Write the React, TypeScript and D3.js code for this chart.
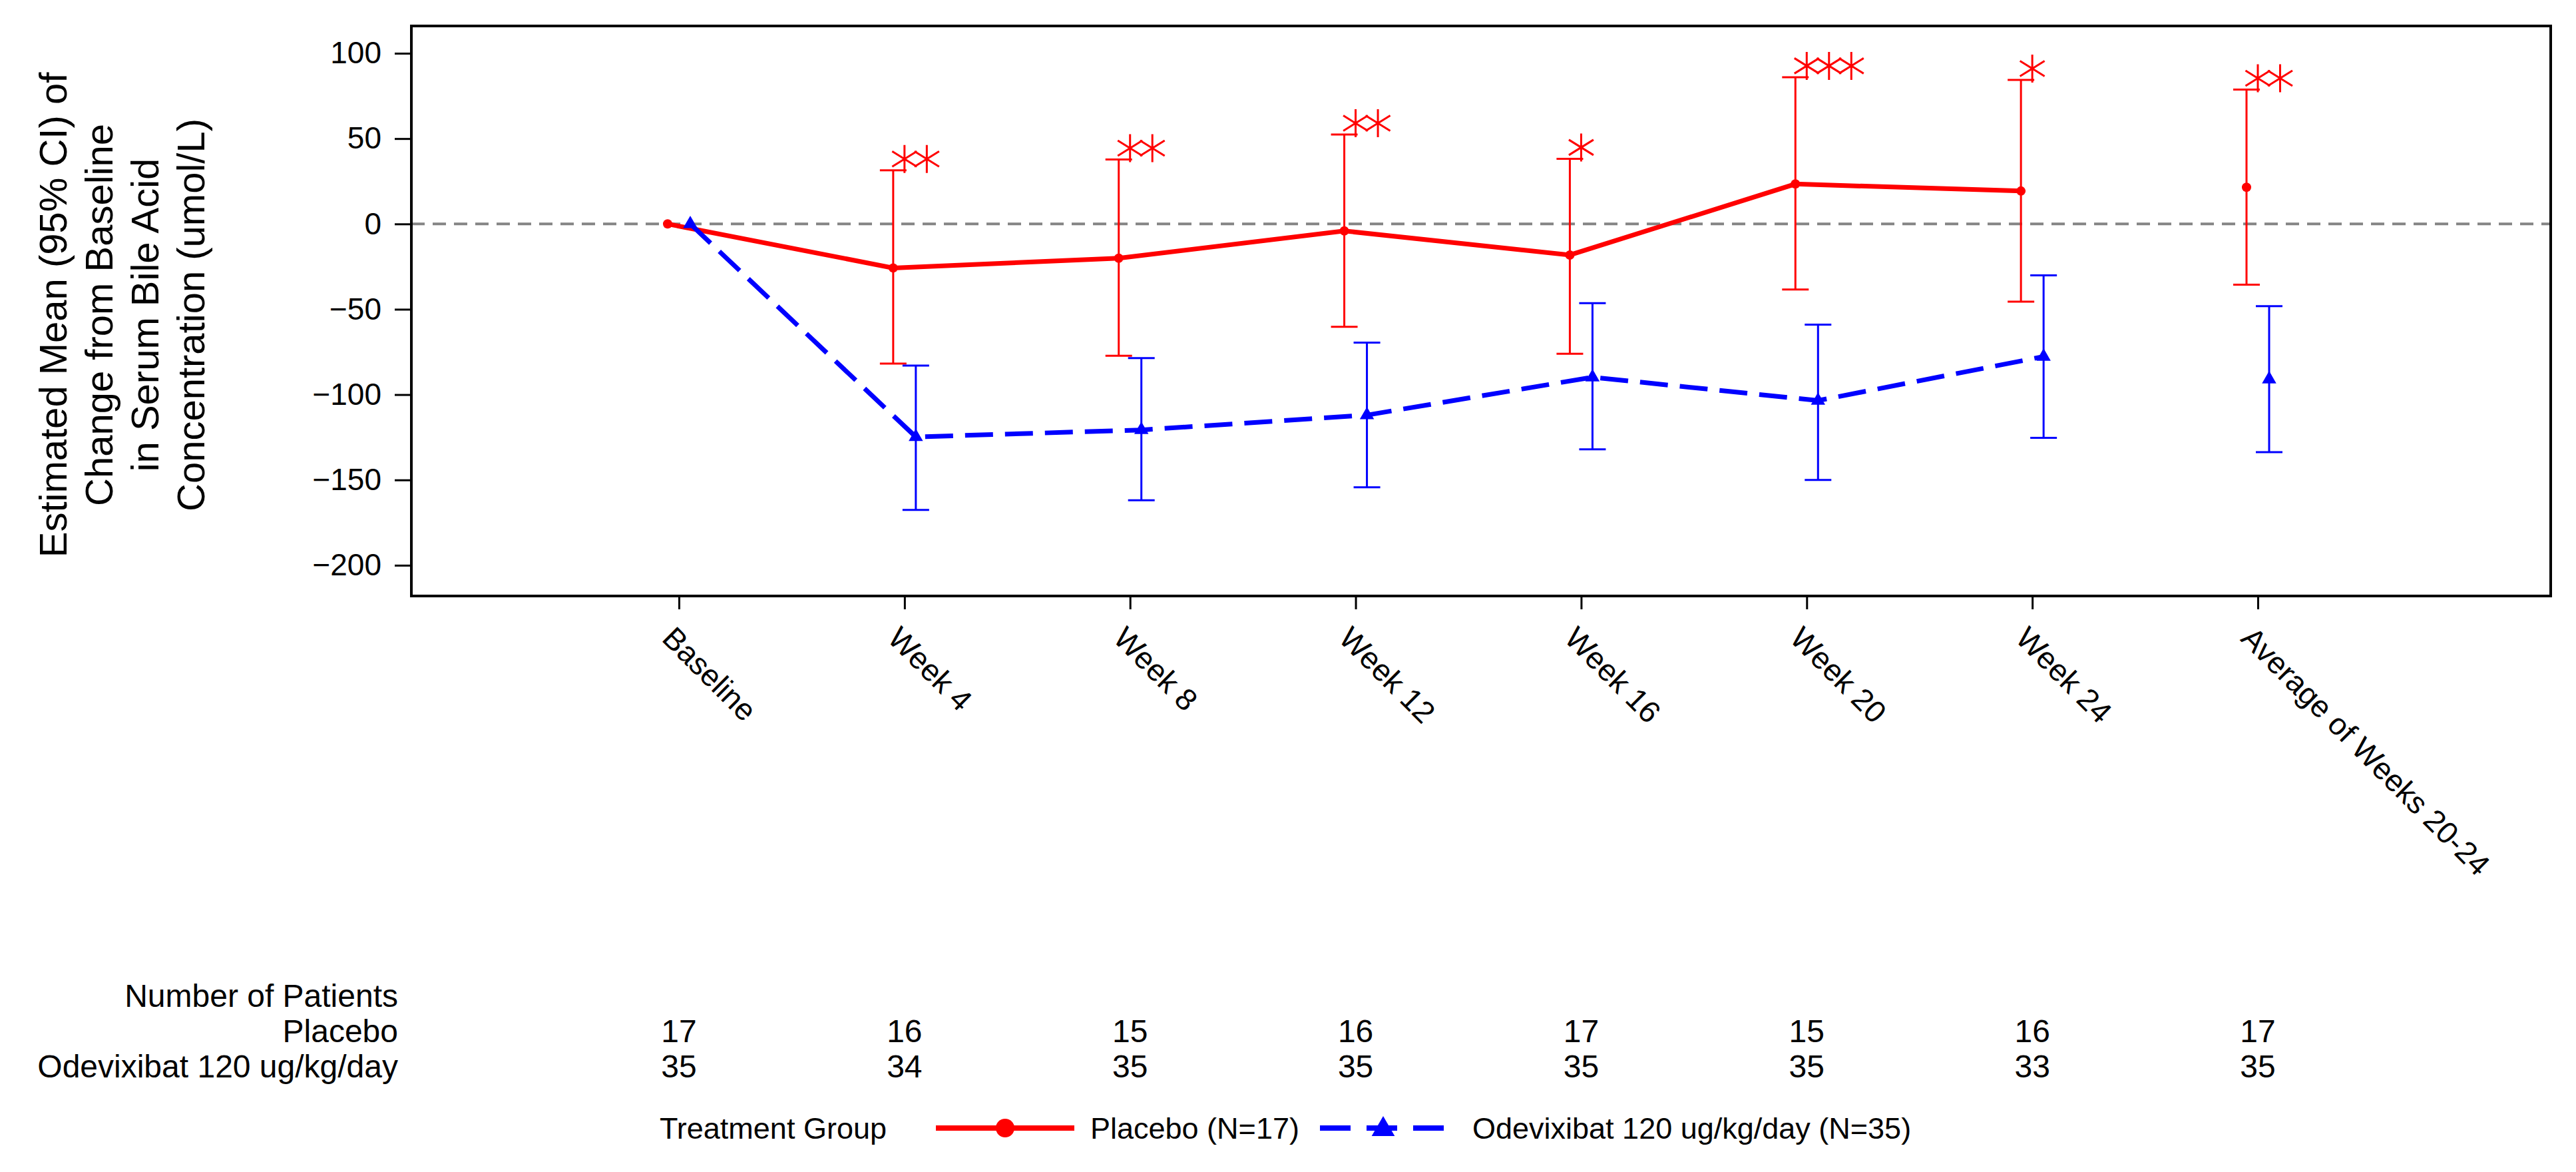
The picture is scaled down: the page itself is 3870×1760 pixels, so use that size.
import React, { useEffect, useRef } from "react";
import * as d3 from "d3";

// visit categories (x axis)
const categories: string[] = [
    "Baseline",
    "Week 4",
    "Week 8",
    "Week 12",
    "Week 16",
    "Week 20",
    "Week 24",
    "Average of Weeks 20-24",
];

// Placebo: estimated mean and 95% CI
const placeboMean: number[] = [0, -25.8, -20.1, -4.1, -18.2, 23.4, 19.3, 21.5];
const placeboLower: number[] = [0, -81.8, -77.2, -60.3, -76.1, -38.4, -45.5, -35.6];
const placeboUpper: number[] = [0, 31.4, 37.8, 52.4, 38.2, 86.0, 84.4, 78.7];

// Odevixibat 120 ug/kg/day: estimated mean and 95% CI
const odevMean: number[] = [0, -124.8, -120.7, -112.0, -89.8, -103.5, -77.7, -91.0];
const odevLower: number[] = [0, -167.6, -161.9, -154.3, -132.1, -150.0, -125.3, -133.7];
const odevUpper: number[] = [0, -83.0, -78.6, -69.5, -46.4, -59.0, -30.1, -48.2];

// significance markers above the placebo CI
const stars: number[] = [0, 2, 2, 2, 1, 3, 1, 2];

// number of patients per visit
const placeboN: number[] = [17, 16, 15, 16, 17, 15, 16, 17];
const odevN: number[] = [35, 34, 35, 35, 35, 35, 33, 35];

const yTicks: number[] = [-200, -150, -100, -50, 0, 50, 100];

const yTitle: string[] = [
    "Estimated Mean (95% CI) of",
    "Change from Baseline",
    "in Serum Bile Acid",
    "Concentration (umol/L)",
];

const groups = [
    { name: "Placebo", legend: "Placebo (N=17)", color: "#ff0000", dash: null as string | null, mean: placeboMean, lower: placeboLower, upper: placeboUpper, n: placeboN, offset: -17 },
    { name: "Odevixibat 120 ug/kg/day", legend: "Odevixibat 120 ug/kg/day (N=35)", color: "#0000ff", dash: "42,18", mean: odevMean, lower: odevLower, upper: odevUpper, n: odevN, offset: 17 },
];

const FONT = "'Liberation Sans', Arial, sans-serif";

const App: React.FC = () => {
    const svgRef = useRef<SVGSVGElement | null>(null);

    useEffect(() => {
        if (!svgRef.current) return;
        const svg = d3.select(svgRef.current);
        svg.selectAll("*").remove();

        const width = 3870;
        const height = 1760;
        const plot = { left: 618, right: 3832, top: 39, bottom: 895 };

        svg.attr("width", width).attr("height", height).style("font-family", FONT);

        const x = d3.scalePoint<string>().domain(categories).range([1020, 3392]);
        const y = d3.scaleLinear().domain([-218, 116]).range([plot.bottom, plot.top]);

        // reference line at zero
        svg.append("line")
            .attr("x1", plot.left)
            .attr("x2", plot.right)
            .attr("y1", y(0))
            .attr("y2", y(0))
            .attr("stroke", "#858585")
            .attr("stroke-width", 4)
            .attr("stroke-dasharray", "20,12");

        // y axis
        const yAxis = svg.append("g")
            .attr("transform", `translate(${plot.left},0)`)
            .call(d3.axisLeft(y).tickValues(yTicks).tickSize(25).tickPadding(20));
        yAxis.select(".domain").remove();
        yAxis.selectAll("line").attr("stroke", "#000").attr("stroke-width", 3);
        yAxis.selectAll("text")
            .attr("font-size", 46)
            .attr("font-family", FONT)
            .attr("fill", "#000");

        // x axis
        const xAxis = svg.append("g")
            .attr("transform", `translate(0,${plot.bottom})`)
            .call(d3.axisBottom(x).tickSize(20));
        xAxis.select(".domain").remove();
        xAxis.selectAll("line").attr("stroke", "#000").attr("stroke-width", 3);
        xAxis.selectAll("text")
            .attr("x", 0)
            .attr("y", 0)
            .attr("dy", 0)
            .attr("transform", "translate(-28,66) rotate(45)")
            .style("text-anchor", "start")
            .attr("font-size", 46)
            .attr("font-family", FONT)
            .attr("fill", "#000");

        // y title
        yTitle.forEach((t, i) => {
            svg.append("text")
                .attr("transform", `translate(${100 + i * 69},${(plot.top + plot.bottom) / 2 + 6}) rotate(-90)`)
                .attr("text-anchor", "middle")
                .attr("font-size", 58)
                .attr("fill", "#000")
                .text(t);
        });

        // lines, error bars, markers
        groups.forEach((g) => {
            const px = (i: number) => (x(categories[i]) as number) + g.offset;
            const idx = d3.range(categories.length - 1);

            const line = d3.line<number>()
                .x((i) => px(i))
                .y((i) => y(g.mean[i]));

            svg.append("path")
                .datum(idx)
                .attr("d", line)
                .attr("fill", "none")
                .attr("stroke", g.color)
                .attr("stroke-width", 7)
                .attr("stroke-dasharray", g.dash);

            const bars = d3.range(categories.length).filter((i) => g.upper[i] !== g.lower[i]);
            const eb = svg.append("g").attr("stroke", g.color).attr("stroke-width", 3);
            eb.selectAll("line.v")
                .data(bars)
                .join("line")
                .attr("class", "v")
                .attr("x1", (i) => px(i))
                .attr("x2", (i) => px(i))
                .attr("y1", (i) => y(g.lower[i]))
                .attr("y2", (i) => y(g.upper[i]));
            eb.selectAll("line.lo")
                .data(bars)
                .join("line")
                .attr("class", "lo")
                .attr("x1", (i) => px(i) - 20)
                .attr("x2", (i) => px(i) + 20)
                .attr("y1", (i) => y(g.lower[i]))
                .attr("y2", (i) => y(g.lower[i]));
            eb.selectAll("line.hi")
                .data(bars)
                .join("line")
                .attr("class", "hi")
                .attr("x1", (i) => px(i) - 20)
                .attr("x2", (i) => px(i) + 20)
                .attr("y1", (i) => y(g.upper[i]))
                .attr("y2", (i) => y(g.upper[i]));

            const all = d3.range(categories.length);
            if (g.dash === null) {
                svg.append("g")
                    .selectAll("circle")
                    .data(all)
                    .join("circle")
                    .attr("cx", (i) => px(i))
                    .attr("cy", (i) => y(g.mean[i]))
                    .attr("r", 7)
                    .attr("fill", g.color);
            } else {
                const tri = d3.symbol().type(d3.symbolTriangle).size(200);
                svg.append("g")
                    .selectAll("path")
                    .data(all)
                    .join("path")
                    .attr("transform", (i) => `translate(${px(i)},${y(g.mean[i])})`)
                    .attr("d", tri())
                    .attr("fill", g.color);
            }
        });

        // significance asterisks (vertical bar + X)
        const asterisk = (() => {
            const p = d3.path();
            const r = 21, u = 18.5, t = 11.5;
            p.moveTo(0, -r); p.lineTo(0, r);
            p.moveTo(-u, -t); p.lineTo(u, t);
            p.moveTo(-u, t); p.lineTo(u, -t);
            return p.toString();
        })();
        const starPts: { i: number; k: number }[] = [];
        stars.forEach((n, i) => d3.range(n).forEach((k) => starPts.push({ i, k })));
        svg.append("g")
            .selectAll("path")
            .data(starPts)
            .join("path")
            .attr("transform", (d) => `translate(${(x(categories[d.i]) as number) + d.k * 33.5},${y(placeboUpper[d.i]) - 17})`)
            .attr("d", asterisk)
            .attr("fill", "none")
            .attr("stroke", "#ff0000")
            .attr("stroke-width", 3);

        // frame
        svg.append("rect")
            .attr("x", plot.left)
            .attr("y", plot.top)
            .attr("width", plot.right - plot.left)
            .attr("height", plot.bottom - plot.top)
            .attr("fill", "none")
            .attr("stroke", "#000")
            .attr("stroke-width", 4);

        // number of patients table
        const table = svg.append("g").attr("font-size", 48).attr("fill", "#000");
        table.append("text")
            .attr("x", 598)
            .attr("y", 1512)
            .attr("text-anchor", "end")
            .text("Number of Patients");
        groups.forEach((g, gi) => {
            const rowY = 1565 + gi * 52.5;
            table.append("text")
                .attr("x", 598)
                .attr("y", rowY)
                .attr("text-anchor", "end")
                .text(g.name);
            table.selectAll(`text.n${gi}`)
                .data(g.n)
                .join("text")
                .attr("class", `n${gi}`)
                .attr("x", (_d, i) => x(categories[i]) as number)
                .attr("y", rowY)
                .attr("text-anchor", "middle")
                .text((d) => d);
        });

        // legend
        const legY = 1694;
        const legend = svg.append("g").attr("font-size", 45).attr("fill", "#000");
        legend.append("text").attr("x", 991).attr("y", 1710).text("Treatment Group");

        legend.append("line")
            .attr("x1", 1406).attr("x2", 1614)
            .attr("y1", legY).attr("y2", legY)
            .attr("stroke", "#ff0000").attr("stroke-width", 8);
        legend.append("circle")
            .attr("cx", 1510).attr("cy", legY).attr("r", 14)
            .attr("fill", "#ff0000");
        legend.append("text").attr("x", 1638).attr("y", 1710).text(groups[0].legend);

        legend.append("line")
            .attr("x1", 1983).attr("x2", 2170)
            .attr("y1", legY).attr("y2", legY)
            .attr("stroke", "#0000ff").attr("stroke-width", 8)
            .attr("stroke-dasharray", "46,24");
        legend.append("path")
            .attr("transform", `translate(2078,${legY + 2})`)
            .attr("d", d3.symbol().type(d3.symbolTriangle).size(520)())
            .attr("fill", "#0000ff");
        legend.append("text").attr("x", 2212).attr("y", 1710).text(groups[1].legend);
    }, []);

    return (
        <div style={{ position: "absolute", left: 0, top: 0, background: "#fff" }}>
            <svg ref={svgRef}></svg>
        </div>
    );
};

export default App;
